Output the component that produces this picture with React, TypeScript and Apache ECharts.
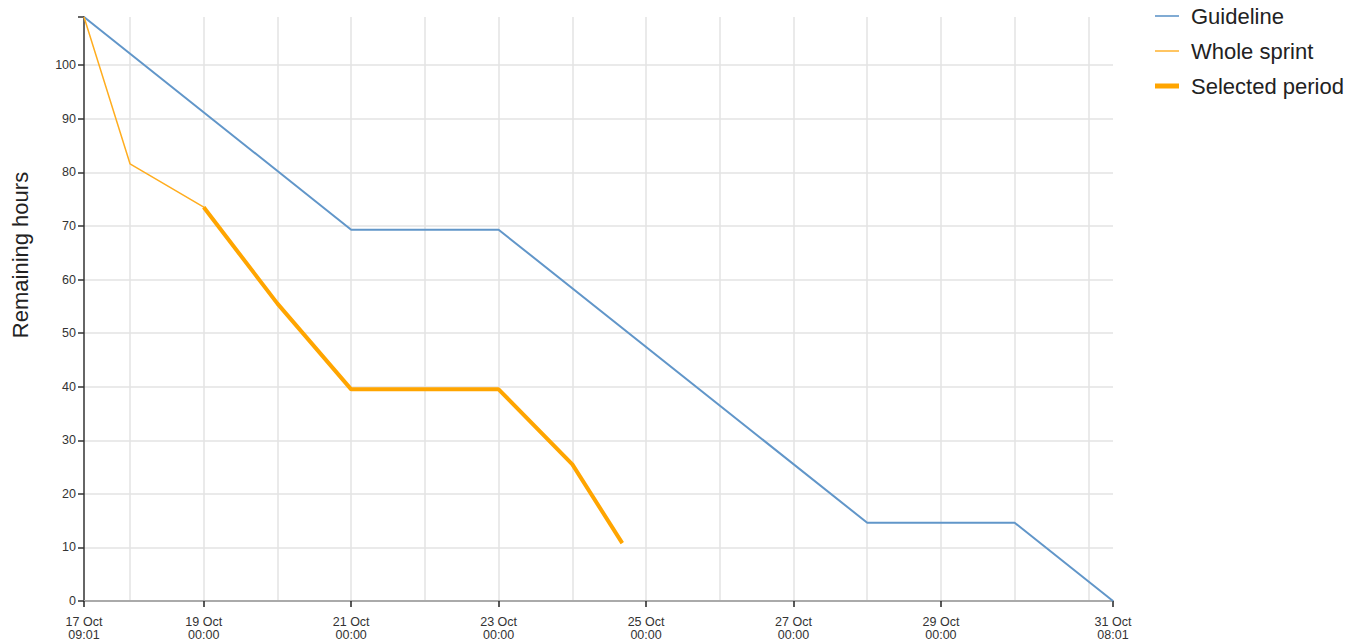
import React, { useEffect, useRef } from "react";
import * as echarts from "echarts";

const MONTHS = ["Jan", "Feb", "Mar", "Apr", "May", "Jun", "Jul", "Aug", "Sep", "Oct", "Nov", "Dec"];
const t = (day: number, h: number, m: number) => Date.UTC(2023, 9, day, h, m);

const START = t(17, 9, 1);
const END = t(31, 8, 1);

// Guideline
const guidelineTimes = [t(17, 9, 1), t(21, 0, 0), t(23, 0, 0), t(28, 0, 0), t(30, 0, 0), t(31, 8, 1)];
const guidelineValues = [109, 69.3, 69.3, 14.6, 14.6, 0];

// Whole sprint
const sprintTimes = [t(17, 9, 1), t(18, 0, 0), t(19, 0, 0), t(20, 0, 0), t(21, 0, 0), t(23, 0, 0), t(24, 0, 0), t(24, 16, 15)];
const sprintValues = [109, 81.6, 73.5, 55.5, 39.5, 39.5, 25.5, 10.8];

// Selected period
const selectedTimes = [t(19, 0, 0), t(20, 0, 0), t(21, 0, 0), t(23, 0, 0), t(24, 0, 0), t(24, 16, 15)];
const selectedValues = [73.5, 55.5, 39.5, 39.5, 25.5, 10.8];

// Axis ticks
const xLabelTicks = [START, t(19, 0, 0), t(21, 0, 0), t(23, 0, 0), t(25, 0, 0), t(27, 0, 0), t(29, 0, 0), END];
const xGridDays = [18, 19, 20, 21, 22, 23, 24, 25, 26, 27, 28, 29, 30, 31].map((d) => t(d, 0, 0));
const yLabelTicks = [0, 10, 20, 30, 40, 50, 60, 70, 80, 90, 100];
const yTickValues = [...yLabelTicks, 109];
const yGridValues = [10, 20, 30, 40, 50, 60, 70, 80, 90, 100];

const pad = (n: number) => (n < 10 ? "0" + n : "" + n);
const fmt = (v: number) => {
  const d = new Date(v);
  return `${d.getUTCDate()} ${MONTHS[d.getUTCMonth()]}\n${pad(d.getUTCHours())}:${pad(d.getUTCMinutes())}`;
};
const zip = (a: number[], b: number[]) => a.map((x, i) => [x, b[i]]);

const BLUE = "#6196c9";
const ORANGE = "#ffa500";

export default function App() {
  const ref = useRef<HTMLDivElement>(null);
  useEffect(() => {
    if (!ref.current) return;
    const chart = echarts.init(ref.current, null, { renderer: "svg" });
    const font = "'Liberation Sans', Arial, sans-serif";
    chart.setOption({
      animation: false,
      textStyle: { fontFamily: font },
      grid: { left: 84, right: 235, top: 17, bottom: 43, containLabel: false },
      legend: {
        orient: "vertical",
        left: 1155,
        top: 5,
        padding: 0,
        itemWidth: 24,
        itemHeight: 20,
        itemGap: 13,
        symbolKeepAspect: true,
        textStyle: { fontSize: 22, lineHeight: 22, color: "#222", fontFamily: font, padding: [0, 0, 0, 7] },
        data: [
          { name: "Guideline", icon: "path://M0,0H24V1.6H0Z" },
          { name: "Whole sprint", icon: "path://M0,0H24V1.4H0Z" },
          { name: "Selected period", icon: "path://M0,0H24V5H0Z" },
        ],
      },
      graphic: [
        {
          type: "text",
          x: 20,
          y: 255,
          rotation: Math.PI / 2,
          style: {
            text: "Remaining hours",
            fontSize: 22,
            fill: "#222",
            fontFamily: font,
            align: "center",
            verticalAlign: "middle",
          },
        },
      ],
      xAxis: [
        {
          type: "value",
          min: START,
          max: END,
          position: "bottom",
          axisLine: { show: true, lineStyle: { color: "#aaa", width: 2 } },
          axisTick: { show: true, customValues: xLabelTicks, length: 6, lineStyle: { color: "#222", width: 1.5 } },
          axisLabel: {
            customValues: xLabelTicks,
            formatter: fmt,
            fontSize: 12.5,
            lineHeight: 13,
            color: "#333",
            margin: 14,
            fontFamily: "'Liberation Sans Narrow', 'Arial Narrow', " + font,
          },
          splitLine: { show: false },
        },
        {
          type: "value",
          min: START,
          max: END,
          position: "top",
          axisLine: { show: false },
          axisTick: { show: false, customValues: xGridDays },
          axisLabel: { show: false },
          splitLine: { show: true, lineStyle: { color: "#e3e3e3", width: 1.5 } },
        },
      ],
      yAxis: [
        {
          type: "value",
          min: 0,
          max: 109,
          axisLine: { show: true, lineStyle: { color: "#333", width: 1.5 } },
          axisTick: { show: true, customValues: yTickValues, length: 6, lineStyle: { color: "#333", width: 1.5 } },
          axisLabel: { customValues: yLabelTicks, fontSize: 12.5, color: "#333", margin: 8 },
          splitLine: { show: false },
        },
        {
          type: "value",
          min: 0,
          max: 109,
          position: "right",
          axisLine: { show: false },
          axisTick: { show: false, customValues: yGridValues },
          axisLabel: { show: false },
          splitLine: { show: true, lineStyle: { color: "#e3e3e3", width: 1.5 } },
        },
      ],
      series: [
        {
          name: "Guideline",
          type: "line",
          data: zip(guidelineTimes, guidelineValues),
          showSymbol: false,
          symbol: "none",
          lineStyle: { color: BLUE, width: 2 },
          itemStyle: { color: BLUE },
          z: 2,
        },
        {
          name: "Whole sprint",
          type: "line",
          data: zip(sprintTimes, sprintValues),
          showSymbol: false,
          symbol: "none",
          lineStyle: { color: "#ffad1f", width: 1.5 },
          itemStyle: { color: "#ffad1f" },
          z: 3,
        },
        {
          name: "Selected period",
          type: "line",
          data: zip(selectedTimes, selectedValues),
          showSymbol: false,
          symbol: "none",
          lineStyle: { color: ORANGE, width: 4 },
          itemStyle: { color: ORANGE },
          z: 4,
        },
      ],
    });
    return () => chart.dispose();
  }, []);
  return <div ref={ref} style={{ width: 1348, height: 644, position: "absolute", left: 0, top: 0 }} />;
}
